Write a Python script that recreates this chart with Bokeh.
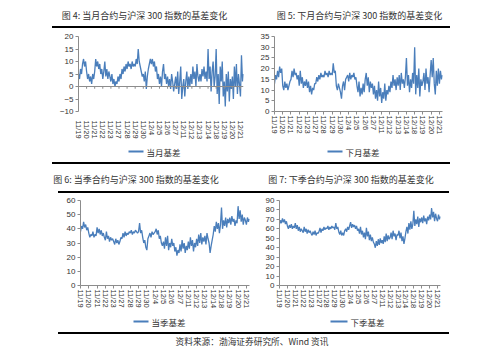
import numpy as np
from bokeh.plotting import figure
from bokeh.models import (Range1d, FixedTicker, SingleIntervalTicker, Span, Label, Arrow, Div)
from bokeh.layouts import column, row
from bokeh.embed import file_html
from bokeh.resources import INLINE

# ---------------- data ----------------
dates = ["11/19", "11/20", "11/21", "11/22", "11/23", "11/27", "11/28", "11/29", "11/30",
         "12/4", "12/5", "12/6", "12/7", "12/11", "12/12", "12/13", "12/14", "12/18",
         "12/19", "12/20", "12/21"]
PER_DAY = 8

titles = ["图 4:  当月合约与沪深 300 指数的基差变化",
          "图 5:  下月合约与沪深 300 指数的基差变化",
          "图 6:  当季合约与沪深 300 指数的基差变化",
          "图 7:  下季合约与沪深 300 指数的基差变化"]
series_names = ["当月基差", "下月基差", "当季基差", "下季基差"]
source_text = "资料来源：渤海证券研究所、Wind 资讯"

basis_near_month = [
    5, 3, 7, 5, 9, 11, 8, 10,
    6, 3, 5, 2, 4, 1, 5, 3,
    6, 11, 8, 10, 7, 9, 5, 7,
    3, 6, 10, 4, 7, 3, 6, 4,
    2, 5, 1, 3, 0, 2, 1, 4,
    2, 5, 3, 7, 5, 8, 6, 9,
    7, 10, 8, 9, 7, 10, 8, 9,
    8, 11, 9, 15, 10, 8, 6, 4,
    5, 2, 6, -1, 4, 7, 9, 11,
    9, 11, 8, 10, 6, 8, 3, 5,
    1, 4, 0, 6, 9, 3, 5, 1,
    4, 0, 3, -1, 5, 2, -2, 1,
    4, -1, 6, -3, 2, 8, -5, 0,
    3, -4, 2, 6, -1, 4, 0, 5,
    1, 8, 3, 6, 0, 9, 4, 2,
    5, 2, 7, 4, 8, 3, 6, 2,
    15, 3, 8, -2, 6, 10, 0, 4,
    15, -3, 5, -7, 8, 2, 10, -4,
    2, -8, 5, -2, 6, -6, 3, -1,
    4, -5, 8, 0, 9, -3, 5, 1,
    -4, 12.5, 2, 5]

basis_next_month = [
    13, 17, 15, 19, 16, 21, 18, 20,
    12, 10, 14, 11, 13, 10, 12, 14,
    15, 19, 16, 20, 17, 18, 15, 17,
    12, 19, 13, 16, 11, 14, 12, 15,
    11, 14, 9, 12, 8, 11, 10, 13,
    13, 16, 14, 17, 15, 18, 16, 17,
    16, 19, 17, 18, 16, 19, 17, 18,
    17, 22.5, 18, 19, 12, 10, 13, 11,
    9, 6, 12, 14, 10, 15, 16, 17,
    14, 18, 15, 17, 16, 18, 15, 16,
    12, 9, 14, 7, 11, 8, 13, 9,
    15, 18, 12, 16, 9, 14, 11, 13,
    8, 12, 6, 10, 5, 14, 7, 11,
    4, 9, 6, 13, 5, 10, 8, 12,
    9, 14, 11, 17, 12, 15, 10, 16,
    12, 17, 10, 18, 13, 15, 11, 16,
    25, 12, 17, 9, 15, 11, 18, 13,
    30, 8, 17, 11, 20, 7, 15, 12,
    14, 18, 10, 20, 13, 16, 9, 17,
    24, 16, 25, 13, 8, 19, 12, 20,
    13, 19, 15, 17]

basis_near_quarter = [
    38, 42, 40, 45, 41, 43, 39, 41,
    37, 34, 36, 35, 38, 34, 36, 35,
    41, 37, 40, 36, 39, 35, 37, 34,
    32, 38, 33, 35, 31, 34, 32, 33,
    31, 29, 33, 30, 32, 29, 31, 34,
    33, 37, 34, 38, 35, 37, 36, 38,
    37, 39, 36, 38, 37, 39, 38, 37,
    38, 44, 37, 39, 34, 30, 32, 27,
    25, 33, 35, 37, 34, 38, 36, 37,
    38, 40, 36, 39, 33, 35, 30, 28,
    31, 26, 34, 28, 35, 25, 30, 27,
    33, 28, 30, 24, 27, 21, 25, 23,
    29, 24, 32, 26, 30, 23, 28, 25,
    31, 26, 34, 28, 32, 24, 30, 27,
    33, 28, 36, 30, 37, 29, 34, 31,
    35, 29, 37, 33, 30, 23, 28, 32,
    36, 42, 38, 45, 40, 44, 37, 43,
    55, 40, 46, 42, 48, 41, 47, 44,
    48, 43, 49, 45, 47, 42, 46, 44,
    56, 47, 53, 45, 50, 43, 48, 46,
    43, 48, 45, 47]

basis_next_quarter = [
    65, 69, 66, 71, 67, 70, 65, 68,
    63, 60, 64, 61, 65, 60, 63, 61,
    66, 60, 64, 58, 62, 57, 60, 58,
    56, 62, 57, 60, 55, 59, 56, 58,
    55, 53, 57, 54, 58, 53, 56, 55,
    57, 61, 56, 60, 58, 62, 59, 61,
    60, 63, 59, 62, 60, 63, 61, 62,
    59, 66, 60, 62, 57, 54, 58, 53,
    56, 53, 58, 60, 57, 62, 59, 63,
    67, 61, 65, 62, 64, 60, 63, 58,
    60, 55, 62, 54, 58, 51, 56, 49,
    61, 52, 57, 48, 54, 47, 51, 46,
    44, 40, 47, 42, 49, 43, 50, 45,
    48, 44, 52, 46, 55, 47, 53, 49,
    51, 56, 49, 58, 52, 55, 48, 54,
    53, 58, 50, 56, 47, 52, 44, 50,
    57, 62, 55, 66, 59, 68, 60, 65,
    79, 63, 70, 65, 73, 62, 71, 67,
    72, 66, 74, 68, 71, 65, 73, 69,
    75, 70, 82, 72, 78, 68, 76, 71,
    68, 75, 70, 73]

# ---------------- style ----------------
BLUE = "#4a7ebb"
AXIS = "#8c8c8c"
TXT = "#333333"
CJK = "Noto Sans CJK SC"
LAT = "Liberation Sans"
W = 500
LINE_W = 1.3


def chart(values, ymin, ymax, step, width, height, bl, br, bt, bb, zero_line=False):
    x = np.arange(len(values)) / PER_DAY
    p = figure(width=width, height=height, output_backend="svg", toolbar_location=None,
               x_range=Range1d(0, (len(values) - 1) / PER_DAY), y_range=Range1d(ymin, ymax),
               min_border_left=bl, min_border_right=br, min_border_top=bt, min_border_bottom=bb)
    p.outline_line_color = None
    p.grid.visible = False
    p.line(x, values, line_color=BLUE, line_width=LINE_W)

    ticks = list(range(len(dates)))
    xa = p.xaxis[0]
    xa.ticker = FixedTicker(ticks=ticks)
    xa.major_label_overrides = {i: d for i, d in enumerate(dates)}
    xa.major_label_orientation = "vertical"
    xa.major_label_text_font = LAT
    xa.major_label_text_font_size = "7.5px"
    xa.major_label_text_color = TXT
    xa.minor_tick_line_color = None
    if zero_line:
        xa.axis_line_color = None
        xa.major_tick_line_color = None
        xa.major_label_standoff = 3
        p.add_layout(Span(location=0, dimension="width", line_color=AXIS, line_width=1))
        p.segment(x0=ticks, y0=[0] * len(ticks), x1=ticks,
                  y1=[-(ymax - ymin) * 0.03] * len(ticks), line_color=AXIS, line_width=1)
    else:
        xa.axis_line_color = AXIS
        xa.major_tick_line_color = AXIS
        xa.major_tick_in = 0
        xa.major_tick_out = 3
        xa.major_label_standoff = 1

    ya = p.yaxis[0]
    ya.ticker = SingleIntervalTicker(interval=step, num_minor_ticks=0)
    ya.axis_line_color = AXIS
    ya.major_tick_line_color = AXIS
    ya.major_tick_in = 0
    ya.major_tick_out = 3
    ya.minor_tick_line_color = None
    ya.major_label_standoff = 2
    ya.major_label_text_font = LAT
    ya.major_label_text_font_size = "8px"
    ya.major_label_text_color = TXT
    return p


class Strip:
    """A blank full-width band; positions are given as distance from its top edge."""

    def __init__(self, height):
        self.h = height
        p = figure(width=W, height=height, output_backend="svg", toolbar_location=None,
                   x_range=Range1d(0, W), y_range=Range1d(0, height),
                   min_border_left=0, min_border_right=0, min_border_top=0,
                   min_border_bottom=0)
        p.axis.visible = False
        p.outline_line_color = None
        p.grid.visible = False
        self.p = p

    def text(self, x, cy, t, fs, align="center"):
        self.p.add_layout(Label(x=x, y=self.h - cy, text=t, text_align=align,
                                text_baseline="middle", text_font=CJK, text_font_size=fs,
                                text_color=TXT))

    def key(self, x0, x1, cy, name):
        self.p.add_layout(Arrow(x_start=x0, y_start=self.h - cy, x_end=x1,
                                y_end=self.h - cy, start=None, end=None,
                                line_color=BLUE, line_width=1.8))
        self.text(x1 + 3, cy, name, "8.5px", align="left")


def rule(x0, x1, thick=2):
    return Div(text="", width=x1 - x0, height=thick, margin=(0, 0, 0, x0),
               styles={"background-color": "#000000"})


# row 1 titles
s1 = Strip(26)
s1.text(145, 15, titles[0], "9px")
s1.text(360, 15, titles[1], "9px")

f1 = chart(basis_near_month, -10, 20, 5, 250, 114, 78, 7, 8, 25, zero_line=True)
f2 = chart(basis_next_month, 0, 35, 5, 250, 114, 24, 58, 8, 25)

# row-1 legends
s2a = Strip(20)
s2a.key(128, 143, 9, series_names[0])
s2a.key(327, 342, 9, series_names[1])

# row-2 titles
s2b = Strip(27)
s2b.text(136.5, 15, titles[2], "9px")
s2b.text(351.5, 15, titles[3], "9px")

f3 = chart(basis_near_quarter, 0, 60, 10, 250, 118, 80, 1, 7, 25)
f4 = chart(basis_next_quarter, 0, 90, 10, 250, 118, 29, 60, 7, 25)

# row-2 legends
s3a = Strip(21)
s3a.key(133, 148, 10, series_names[2])
s3a.key(330, 347, 10, series_names[3])

# source
s3b = Strip(22)
s3b.text(251.5, 7, source_text, "8.7px")

layout = column(s1.p, rule(52, 450), row(f1, f2), s2a.p, rule(52, 450), s2b.p,
                rule(58, 449), row(f3, f4), s3a.p, rule(58, 449), s3b.p)
open("out.html", "w").write(file_html(layout, INLINE))
